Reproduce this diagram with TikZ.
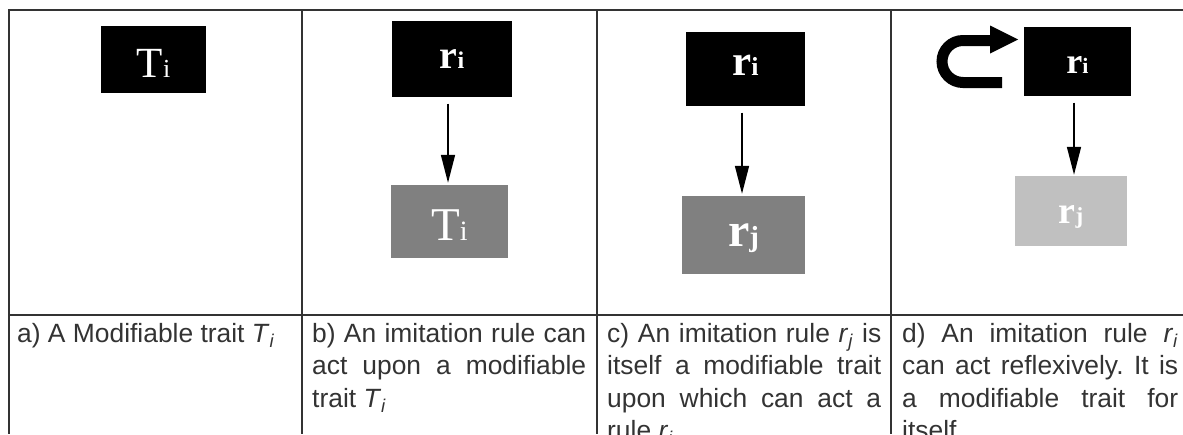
\documentclass[tikz,border=0pt]{standalone}
\usepackage{fontspec}
\setmainfont{Liberation Sans}
\newfontfamily\serifbox{Liberation Serif}
\usetikzlibrary{arrows.meta}
\frenchspacing
\definecolor{rulegray}{RGB}{51,51,51}
\definecolor{midgray}{RGB}{128,128,128}
\definecolor{lightgray}{RGB}{192,192,192}
\newcommand\boxlab[4]{{\serifbox\fontsize{#1}{#1}\selectfont #2\fontsize{#3}{#3}\selectfont #4}}
\newcommand\boxlabb[4]{{\serifbox\bfseries\fontsize{#1}{#1}\selectfont #2\fontsize{#3}{#3}\selectfont #4}}
\begin{document}
\begin{tikzpicture}[x=1pt,y=-1pt,
  tablerule/.style={draw=rulegray,line width=2pt},
  darkbox/.style={fill=black,text=white,inner sep=0pt,text depth=0pt},
  graybox/.style={fill=midgray,text=white,inner sep=0pt,text depth=0pt},
  palebox/.style={fill=lightgray,text=white,inner sep=0pt,text depth=0pt},
  actarrow/.style={draw=black,line width=1.6pt,-{Triangle[length=28pt,width=14pt]},shorten <=6.5pt,shorten >=2pt},
  caption/.style={anchor=base west,inner sep=0pt,align=justify,text=rulegray,
    font=\fontsize{26.4}{32.4}\selectfont\frenchspacing}
]
\useasboundingbox (0,0) rectangle (1183,434);
\clip (0,0) rectangle (1183,434);
\fill[white] (0,0) rectangle (1183,434);
% table rules
\draw[tablerule] (8,10) -- (1183,10);
\draw[tablerule] (8,315) -- (1183,315);
\draw[tablerule] (9,9) -- (9,434);
\draw[tablerule] (302,9) -- (302,434);
\draw[tablerule] (597,9) -- (597,434);
\draw[tablerule] (891,9) -- (891,434);
% a)
\node[darkbox,minimum width=105pt,minimum height=67pt,text height=35pt] (a1) at (153.5,59.5) {\boxlab{43}{T}{26}{i}};
% b)
\node[darkbox,minimum width=120pt,minimum height=76pt,text height=18pt] (b1) at (452,59) {\boxlabb{40}{r}{24}{i}};
\node[graybox,minimum width=117pt,minimum height=73pt,text height=37pt] (b2) at (449.5,221.5) {\boxlab{47}{T}{28}{i}};
\draw[actarrow] ([xshift=-4pt]b1.south) -- ([xshift=-4pt]b1.south |- b2.north);
% c)
\node[darkbox,minimum width=119pt,minimum height=74pt,text height=12pt] (c1) at (745.5,69) {\boxlabb{43}{r}{26}{i}};
\node[graybox,minimum width=123pt,minimum height=78pt,text height=22pt] (c2) at (743.5,235) {\boxlabb{48}{r}{29}{j}};
\draw[actarrow] ([xshift=-3.5pt]c1.south) -- ([xshift=-3.5pt]c1.south |- c2.north);
% d)
\node[darkbox,minimum width=107pt,minimum height=69pt,text height=24pt] (d1) at (1077.5,61.5) {\boxlabb{36}{r}{22}{i}};
\node[palebox,minimum width=112pt,minimum height=70pt,text height=24pt] (d2) at (1071,211) {\boxlabb{38}{r}{23}{j}};
\draw[actarrow,shorten >=1pt] ([xshift=-3.5pt]d1.south) -- ([xshift=-3.5pt]d1.south |- d2.north);
% reflexive curved arrow
\draw[line width=11pt,black] (1002,82.5) -- (963,82.5)
  .. controls (951.4,82.5) and (942,73.1) .. (942,61.5)
  .. controls (942,49.9) and (951.4,40.5) .. (963,40.5) -- (991,40.5);
\fill[black] (990,25.5) -- (1018,39.5) -- (990,53.5) -- cycle;
% captions
\node[caption,text width=275pt] (ta) at (17,342.5) {a) A Modifiable trait \textit{T}\textsubscript{\textit{i}}};
\node[caption,text width=274pt] (tb) at (312,342.5) {b) An imitation rule can\linebreak act upon a modifiable\linebreak trait \textit{T}\textsubscript{\textit{i}}};
\node[caption,text width=274pt] (tc) at (607,342.5) {c) An imitation rule \textit{r}\textsubscript{\textit{j}} is\linebreak itself a modifiable trait\linebreak upon which can act a\linebreak rule \textit{r}\textsubscript{\textit{i}}};
\node[caption,text width=276pt] (td) at (902,342.5) {d) An imitation rule \textit{r}\textsubscript{\textit{i}}\linebreak can act reflexively. It is\linebreak a modifiable trait for\linebreak itself.};
\end{tikzpicture}
\end{document}
